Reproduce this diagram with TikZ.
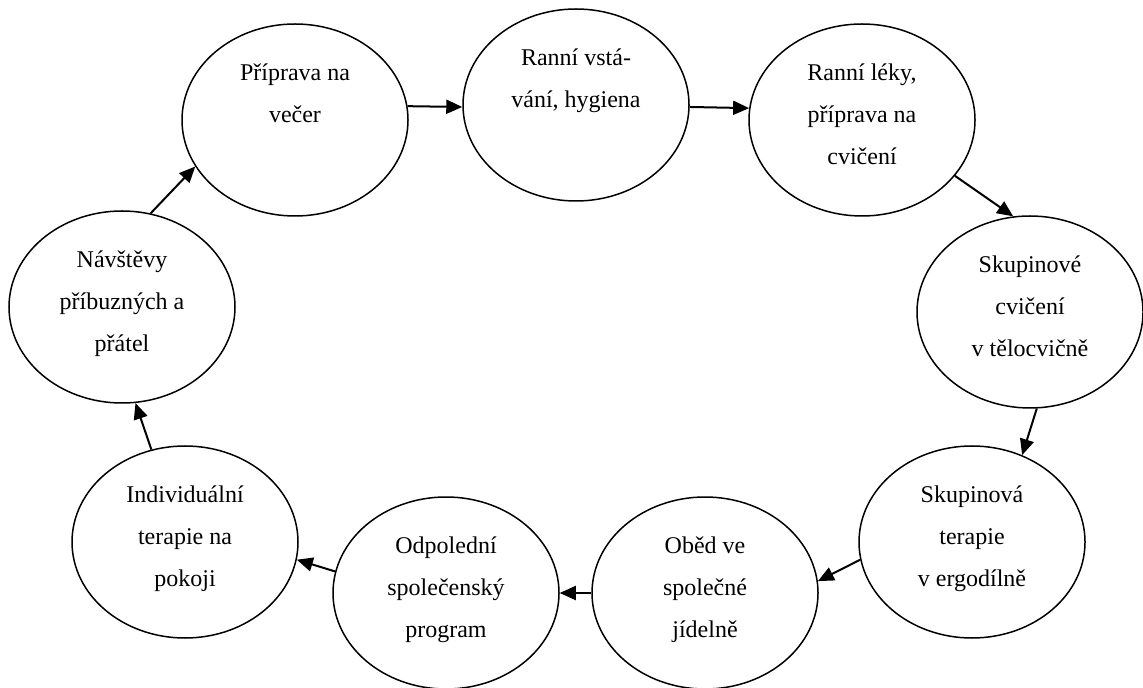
\documentclass[tikz,border=0pt]{standalone}
\usepackage{fontspec}
\setmainfont{Liberation Serif}
\usepackage{tikz}
\usetikzlibrary{shapes, arrows.meta}

\begin{document}
\begin{tikzpicture}[x=0.5pt, y=-0.5pt,
        stage/.style={draw, ellipse, line width=0.75pt, minimum width=113pt, minimum height=96pt, inner sep=0pt, align=center, font=\fontsize{12}{21}\selectfont, execute at end node=\strut},
        flow/.style={line width=1pt, -{Triangle[length=8pt, width=7pt]}}]
    \useasboundingbox (0,0) rectangle (1143,688);
    % den na oddeleni, po smeru hodin
    \node[stage] (prep) at (295,120) {Příprava na\\večer\\};
    \node[stage] (wake) at (576,105) {Ranní vstá-\\vání, hygiena\\};
    \node[stage] (meds) at (862,120) {Ranní léky,\\příprava na\\cvičení};
    \node[stage] (gym) at (1030,312) {Skupinové\\cvičení\\v tělocvičně};
    \node[stage] (ergo) at (972,542) {Skupinová\\terapie\\v ergodílně};
    \node[stage] (lunch) at (705,593) {Oběd ve\\společné\\jídelně};
    \node[stage] (social) at (446,593) {Odpolední\\společenský\\program};
    \node[stage] (indiv) at (185,542) {Individuální\\terapie na\\pokoji};
    \node[stage] (visit) at (122,307) {Návštěvy\\příbuzných a\\přátel};

    \draw[flow] (prep.7) -- (wake.181);
    \draw[flow] (wake.-1) -- (meds.174);
    \draw[flow] (meds.-31) -- (gym.100);
    \draw[flow] (gym.-86) -- (ergo.60);
    \draw[flow] (ergo.189) -- (lunch.6);
    \draw[flow] (lunch.west) -- (social.east);
    \draw[flow] (social.169) -- (indiv.-9);
    \draw[flow] (indiv.110) -- (visit.-82);
    \draw[flow] (visit.73) -- (prep.205);
\end{tikzpicture}
\end{document}
